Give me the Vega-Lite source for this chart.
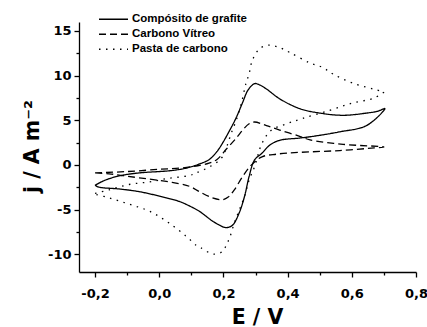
{
  "$schema": "https://vega.github.io/schema/vega-lite/v6.json",
  "width": 337,
  "height": 250,
  "autosize": "none",
  "padding": {"left": 79, "top": 22, "right": 11, "bottom": 55},
  "background": "white",
  "config": {
    "view": {"stroke": null},
    "axis": {
      "grid": false,
      "domainColor": "black",
      "domainWidth": 1.3,
      "tickColor": "black",
      "tickWidth": 1.3,
      "labelColor": "black",
      "labelFont": "DejaVu Sans",
      "labelFontSize": 13,
      "labelFontWeight": "bold",
      "labelFlush": false,
      "titleColor": "black",
      "titleFont": "DejaVu Sans",
      "titleFontSize": 20.5,
      "titleFontWeight": "bold"
    }
  },
  "data": {
    "values": [
      {"s": "Compósito de grafite", "i": 0, "E": -0.2, "j": -2.3},
      {"s": "Compósito de grafite", "i": 1, "E": -0.18, "j": -1.9},
      {"s": "Compósito de grafite", "i": 2, "E": -0.156, "j": -1.55},
      {"s": "Compósito de grafite", "i": 3, "E": -0.12, "j": -1.2},
      {"s": "Compósito de grafite", "i": 4, "E": -0.0625, "j": -0.9},
      {"s": "Compósito de grafite", "i": 5, "E": 0.0, "j": -0.75},
      {"s": "Compósito de grafite", "i": 6, "E": 0.03, "j": -0.67},
      {"s": "Compósito de grafite", "i": 7, "E": 0.08, "j": -0.4},
      {"s": "Compósito de grafite", "i": 8, "E": 0.125, "j": 0.1},
      {"s": "Compósito de grafite", "i": 9, "E": 0.156, "j": 0.6},
      {"s": "Compósito de grafite", "i": 10, "E": 0.18, "j": 1.5},
      {"s": "Compósito de grafite", "i": 11, "E": 0.2, "j": 2.6},
      {"s": "Compósito de grafite", "i": 12, "E": 0.22, "j": 3.9},
      {"s": "Compósito de grafite", "i": 13, "E": 0.24, "j": 5.3},
      {"s": "Compósito de grafite", "i": 14, "E": 0.26, "j": 7.0},
      {"s": "Compósito de grafite", "i": 15, "E": 0.277, "j": 8.4},
      {"s": "Compósito de grafite", "i": 16, "E": 0.297, "j": 9.1},
      {"s": "Compósito de grafite", "i": 17, "E": 0.31, "j": 9.0},
      {"s": "Compósito de grafite", "i": 18, "E": 0.334, "j": 8.5},
      {"s": "Compósito de grafite", "i": 19, "E": 0.375, "j": 7.4},
      {"s": "Compósito de grafite", "i": 20, "E": 0.4375, "j": 6.3},
      {"s": "Compósito de grafite", "i": 21, "E": 0.5, "j": 5.8},
      {"s": "Compósito de grafite", "i": 22, "E": 0.573, "j": 5.55},
      {"s": "Compósito de grafite", "i": 23, "E": 0.646, "j": 5.8},
      {"s": "Compósito de grafite", "i": 24, "E": 0.68, "j": 6.0},
      {"s": "Compósito de grafite", "i": 25, "E": 0.703, "j": 6.3},
      {"s": "Compósito de grafite", "i": 26, "E": 0.646, "j": 4.4},
      {"s": "Compósito de grafite", "i": 27, "E": 0.5625, "j": 3.7},
      {"s": "Compósito de grafite", "i": 28, "E": 0.48, "j": 3.2},
      {"s": "Compósito de grafite", "i": 29, "E": 0.4375, "j": 3.0},
      {"s": "Compósito de grafite", "i": 30, "E": 0.375, "j": 2.75},
      {"s": "Compósito de grafite", "i": 31, "E": 0.344, "j": 2.2},
      {"s": "Compósito de grafite", "i": 32, "E": 0.32, "j": 1.3},
      {"s": "Compósito de grafite", "i": 33, "E": 0.297, "j": 0.55},
      {"s": "Compósito de grafite", "i": 34, "E": 0.28, "j": -1.3},
      {"s": "Compósito de grafite", "i": 35, "E": 0.266, "j": -3.5},
      {"s": "Compósito de grafite", "i": 36, "E": 0.25, "j": -5.3},
      {"s": "Compósito de grafite", "i": 37, "E": 0.23, "j": -6.7},
      {"s": "Compósito de grafite", "i": 38, "E": 0.215, "j": -7.0},
      {"s": "Compósito de grafite", "i": 39, "E": 0.203, "j": -7.0},
      {"s": "Compósito de grafite", "i": 40, "E": 0.185, "j": -6.7},
      {"s": "Compósito de grafite", "i": 41, "E": 0.166, "j": -6.3},
      {"s": "Compósito de grafite", "i": 42, "E": 0.125, "j": -5.2},
      {"s": "Compósito de grafite", "i": 43, "E": 0.094, "j": -4.6},
      {"s": "Compósito de grafite", "i": 44, "E": 0.0625, "j": -4.1},
      {"s": "Compósito de grafite", "i": 45, "E": 0.0, "j": -3.5},
      {"s": "Compósito de grafite", "i": 46, "E": -0.0625, "j": -3.0},
      {"s": "Compósito de grafite", "i": 47, "E": -0.125, "j": -2.7},
      {"s": "Compósito de grafite", "i": 48, "E": -0.1875, "j": -2.5},
      {"s": "Compósito de grafite", "i": 49, "E": -0.2, "j": -2.3},

      {"s": "Carbono Vítreo", "i": 0, "E": -0.2, "j": -0.9},
      {"s": "Carbono Vítreo", "i": 1, "E": -0.1, "j": -0.75},
      {"s": "Carbono Vítreo", "i": 2, "E": 0.0, "j": -0.5},
      {"s": "Carbono Vítreo", "i": 3, "E": 0.07, "j": -0.35},
      {"s": "Carbono Vítreo", "i": 4, "E": 0.12, "j": -0.1},
      {"s": "Carbono Vítreo", "i": 5, "E": 0.155, "j": 0.2},
      {"s": "Carbono Vítreo", "i": 6, "E": 0.18, "j": 0.6},
      {"s": "Carbono Vítreo", "i": 7, "E": 0.21, "j": 1.8},
      {"s": "Carbono Vítreo", "i": 8, "E": 0.24, "j": 3.0},
      {"s": "Carbono Vítreo", "i": 9, "E": 0.26, "j": 3.9},
      {"s": "Carbono Vítreo", "i": 10, "E": 0.28, "j": 4.6},
      {"s": "Carbono Vítreo", "i": 11, "E": 0.297, "j": 4.8},
      {"s": "Carbono Vítreo", "i": 12, "E": 0.334, "j": 4.4},
      {"s": "Carbono Vítreo", "i": 13, "E": 0.375, "j": 3.9},
      {"s": "Carbono Vítreo", "i": 14, "E": 0.4375, "j": 3.2},
      {"s": "Carbono Vítreo", "i": 15, "E": 0.47, "j": 2.8},
      {"s": "Carbono Vítreo", "i": 16, "E": 0.573, "j": 2.3},
      {"s": "Carbono Vítreo", "i": 17, "E": 0.7, "j": 2.0},
      {"s": "Carbono Vítreo", "i": 18, "E": 0.67, "j": 1.9},
      {"s": "Carbono Vítreo", "i": 19, "E": 0.5625, "j": 1.6},
      {"s": "Carbono Vítreo", "i": 20, "E": 0.4375, "j": 1.4},
      {"s": "Carbono Vítreo", "i": 21, "E": 0.366, "j": 1.2},
      {"s": "Carbono Vítreo", "i": 22, "E": 0.32, "j": 0.9},
      {"s": "Carbono Vítreo", "i": 23, "E": 0.2875, "j": 0.0},
      {"s": "Carbono Vítreo", "i": 24, "E": 0.26, "j": -1.3},
      {"s": "Carbono Vítreo", "i": 25, "E": 0.234, "j": -2.8},
      {"s": "Carbono Vítreo", "i": 26, "E": 0.215, "j": -3.6},
      {"s": "Carbono Vítreo", "i": 27, "E": 0.197, "j": -3.9},
      {"s": "Carbono Vítreo", "i": 28, "E": 0.166, "j": -3.7},
      {"s": "Carbono Vítreo", "i": 29, "E": 0.125, "j": -3.0},
      {"s": "Carbono Vítreo", "i": 30, "E": 0.094, "j": -2.4},
      {"s": "Carbono Vítreo", "i": 31, "E": 0.03, "j": -1.9},
      {"s": "Carbono Vítreo", "i": 32, "E": -0.0625, "j": -1.45},
      {"s": "Carbono Vítreo", "i": 33, "E": -0.115, "j": -1.2},
      {"s": "Carbono Vítreo", "i": 34, "E": -0.156, "j": -1.0},
      {"s": "Carbono Vítreo", "i": 35, "E": -0.2, "j": -0.9},

      {"s": "Pasta de carbono", "i": 0, "E": -0.2, "j": -3.2},
      {"s": "Pasta de carbono", "i": 1, "E": -0.156, "j": -2.8},
      {"s": "Pasta de carbono", "i": 2, "E": -0.094, "j": -2.2},
      {"s": "Pasta de carbono", "i": 3, "E": -0.03, "j": -1.9},
      {"s": "Pasta de carbono", "i": 4, "E": 0.03, "j": -1.5},
      {"s": "Pasta de carbono", "i": 5, "E": 0.094, "j": -1.2},
      {"s": "Pasta de carbono", "i": 6, "E": 0.115, "j": -0.9},
      {"s": "Pasta de carbono", "i": 7, "E": 0.15, "j": -0.35},
      {"s": "Pasta de carbono", "i": 8, "E": 0.18, "j": 0.3},
      {"s": "Pasta de carbono", "i": 9, "E": 0.197, "j": 0.9},
      {"s": "Pasta de carbono", "i": 10, "E": 0.21, "j": 2.0},
      {"s": "Pasta de carbono", "i": 11, "E": 0.225, "j": 3.6},
      {"s": "Pasta de carbono", "i": 12, "E": 0.24, "j": 5.0},
      {"s": "Pasta de carbono", "i": 13, "E": 0.256, "j": 6.9},
      {"s": "Pasta de carbono", "i": 14, "E": 0.27, "j": 9.1},
      {"s": "Pasta de carbono", "i": 15, "E": 0.28, "j": 10.2},
      {"s": "Pasta de carbono", "i": 16, "E": 0.29, "j": 11.7},
      {"s": "Pasta de carbono", "i": 17, "E": 0.3125, "j": 13.0},
      {"s": "Pasta de carbono", "i": 18, "E": 0.34, "j": 13.4},
      {"s": "Pasta de carbono", "i": 19, "E": 0.37, "j": 13.2},
      {"s": "Pasta de carbono", "i": 20, "E": 0.406, "j": 12.6},
      {"s": "Pasta de carbono", "i": 21, "E": 0.47, "j": 11.4},
      {"s": "Pasta de carbono", "i": 22, "E": 0.51, "j": 10.9},
      {"s": "Pasta de carbono", "i": 23, "E": 0.54, "j": 10.2},
      {"s": "Pasta de carbono", "i": 24, "E": 0.6, "j": 9.2},
      {"s": "Pasta de carbono", "i": 25, "E": 0.6875, "j": 8.3},
      {"s": "Pasta de carbono", "i": 26, "E": 0.7, "j": 8.2},
      {"s": "Pasta de carbono", "i": 27, "E": 0.67, "j": 7.5},
      {"s": "Pasta de carbono", "i": 28, "E": 0.6, "j": 6.9},
      {"s": "Pasta de carbono", "i": 29, "E": 0.53, "j": 6.1},
      {"s": "Pasta de carbono", "i": 30, "E": 0.447, "j": 5.2},
      {"s": "Pasta de carbono", "i": 31, "E": 0.397, "j": 4.6},
      {"s": "Pasta de carbono", "i": 32, "E": 0.35, "j": 3.9},
      {"s": "Pasta de carbono", "i": 33, "E": 0.32, "j": 2.4},
      {"s": "Pasta de carbono", "i": 34, "E": 0.297, "j": -0.2},
      {"s": "Pasta de carbono", "i": 35, "E": 0.28, "j": -1.7},
      {"s": "Pasta de carbono", "i": 36, "E": 0.266, "j": -3.5},
      {"s": "Pasta de carbono", "i": 37, "E": 0.25, "j": -5.0},
      {"s": "Pasta de carbono", "i": 38, "E": 0.234, "j": -6.5},
      {"s": "Pasta de carbono", "i": 39, "E": 0.22, "j": -8.1},
      {"s": "Pasta de carbono", "i": 40, "E": 0.21, "j": -8.9},
      {"s": "Pasta de carbono", "i": 41, "E": 0.197, "j": -9.7},
      {"s": "Pasta de carbono", "i": 42, "E": 0.17, "j": -10.0},
      {"s": "Pasta de carbono", "i": 43, "E": 0.13, "j": -9.3},
      {"s": "Pasta de carbono", "i": 44, "E": 0.115, "j": -9.0},
      {"s": "Pasta de carbono", "i": 45, "E": 0.084, "j": -8.0},
      {"s": "Pasta de carbono", "i": 46, "E": 0.03, "j": -6.5},
      {"s": "Pasta de carbono", "i": 47, "E": -0.03, "j": -5.2},
      {"s": "Pasta de carbono", "i": 48, "E": -0.094, "j": -4.4},
      {"s": "Pasta de carbono", "i": 49, "E": -0.156, "j": -3.7},
      {"s": "Pasta de carbono", "i": 50, "E": -0.2, "j": -3.3}
    ]
  },
  "mark": {"type": "line", "color": "black", "strokeWidth": 1.3, "clip": false, "interpolate": "catmull-rom"},
  "encoding": {
    "x": {
      "field": "E",
      "type": "quantitative",
      "scale": {"domain": [-0.25, 0.8], "nice": false, "zero": false},
      "axis": {
        "title": "E / V",
        "values": [-0.2, -0.1, 0, 0.1, 0.2, 0.3, 0.4, 0.5, 0.6, 0.7, 0.8],
        "labelExpr": "round(datum.value*10) % 2 === 0 ? (datum.value < 0 ? '-' : '') + replace(format(abs(datum.value), '.1f'), '.', ',') : ''",
        "tickSize": {"condition": {"test": "round(datum.value*10) % 2 !== 0", "value": 3}, "value": 5},
        "labelPadding": 10,
        "titleX": 178,
        "titleY": 51,
        "titleBaseline": "alphabetic",
        "titleAlign": "center"
      }
    },
    "y": {
      "field": "j",
      "type": "quantitative",
      "scale": {"domain": [-12, 16], "nice": false, "zero": false},
      "axis": {
        "title": "j / A m⁻²",
        "values": [-10, -7.5, -5, -2.5, 0, 2.5, 5, 7.5, 10, 12.5, 15],
        "labelExpr": "datum.value % 5 === 0 ? (datum.value < 0 ? '-' : '') + format(abs(datum.value), 'd') : ''",
        "tickSize": {"condition": {"test": "datum.value % 5 !== 0", "value": 3}, "value": 5},
        "labelPadding": 3,
        "titleX": -41,
        "titleY": 124,
        "titleAngle": -90,
        "titleBaseline": "alphabetic",
        "titleAlign": "center"
      }
    },
    "order": {"field": "i", "type": "quantitative"},
    "strokeDash": {
      "field": "s",
      "type": "nominal",
      "scale": {
        "domain": ["Compósito de grafite", "Carbono Vítreo", "Pasta de carbono"],
        "range": [[1, 0], [7, 4], [1.5, 5.5]]
      },
      "legend": {
        "title": null,
        "orient": "none",
        "legendX": 19,
        "legendY": -10,
        "padding": 0,
        "rowPadding": 0,
        "clipHeight": 14.5,
        "symbolType": "stroke",
        "symbolSize": 841,
        "symbolStrokeColor": "black",
        "symbolStrokeWidth": 1.3,
        "labelFont": "Liberation Sans",
        "labelFontSize": 11.5,
        "labelFontWeight": "bold",
        "labelColor": "black",
        "labelOffset": 3
      }
    }
  }
}
